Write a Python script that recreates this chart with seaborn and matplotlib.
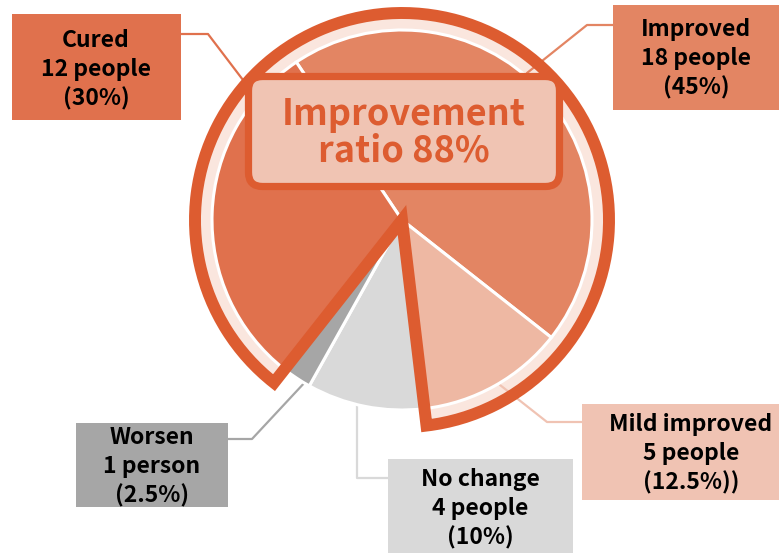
import numpy as np
import matplotlib
matplotlib.use("Agg")
import matplotlib.pyplot as plt
import seaborn as sns
from matplotlib.patches import Wedge, Rectangle, FancyBboxPatch

sns.set_theme(style="white")
plt.rcParams['font.family'] = ['Noto Sans CJK KR', 'DejaVu Sans']

# data
categories = ["Improved", "Mild improved", "No change", "Worsen", "Cured"]
counts = [18, 5, 4, 1, 12]
percents = [45, 12.5, 10, 2.5, 30]
units = ["people", "people", "people", "person", "people"]
extra = ["", ")", "", "", ""]
colors = ["#E38563", "#EEB8A3", "#D9D9D9", "#A6A6A6", "#E0714D"]
box_colors = ["#E38563", "#F0C3B3", "#D9D9D9", "#A6A6A6", "#E0714D"]
improvement_ratio = 88

W, H = 779, 553
def Y(y):
    return H - y

fig = plt.figure(figsize=(W / 100, H / 100), dpi=100)
ax = fig.add_axes([0, 0, 1, 1])

center = (402, Y(220))
radius = 190
start = 123.8

wedges, _ = ax.pie(counts, colors=colors, startangle=start, counterclock=False,
                   center=center, radius=radius,
                   wedgeprops=dict(edgecolor='white', linewidth=2.2))
for w in wedges:
    w.set_zorder(2)

ax.set_xlim(0, W)
ax.set_ylim(0, H)
ax.set_aspect('equal')
ax.axis('off')

# angles of the highlighted group
total = sum(counts)
cum = np.cumsum([0] + counts) / total * 360
theta1 = start - cum[2]          # end of "Mild improved"
theta2 = start - cum[4] + 360    # start of "Cured"

orange = "#DD5C30"
ax.add_patch(Wedge(center, 207, theta1, theta2, facecolor="#FAE6DE",
                   edgecolor='none', zorder=1))
ax.add_patch(Wedge(center, 207, theta1, theta2, facecolor='none',
                   edgecolor=orange, linewidth=8.6, joinstyle='miter', zorder=3))

# label boxes (image pixel coords: x0, x1, y0, y1)
boxes = {
    "Cured": (12, 181, 14, 120),
    "Improved": (613, 785, 5, 110),
    "Mild improved": (582, 785, 404, 500),
    "No change": (388, 573, 459, 560),
    "Worsen": (76, 228, 423, 507),
}
text_pos = {
    "Cured": (96, 70),
    "Improved": (696, 59),
    "Mild improved": (691, 454),
    "No change": (480, 509),
    "Worsen": (152, 467),
}
leaders = {
    "Cured": [(181, 34), (208, 34), (243, 80)],
    "Improved": [(613, 25), (587, 25), (527, 73)],
    "Mild improved": [(582, 422), (547, 422), (500, 385)],
    "No change": [(388, 478), (357, 478), (357, 405)],
    "Worsen": [(228, 439), (252, 439), (307, 380)],
}

for i, cat in enumerate(categories):
    x0, x1, y0, y1 = boxes[cat]
    ax.add_patch(Rectangle((x0, Y(y1)), x1 - x0, y1 - y0,
                           facecolor=box_colors[i], edgecolor='none', zorder=4))
    pts = leaders[cat]
    ax.plot([p[0] for p in pts], [Y(p[1]) for p in pts], color=box_colors[i],
            lw=1.6, zorder=1.5)
    txt = f"{cat}\n{counts[i]} {units[i]}\n({percents[i]:g}%){extra[i]}"
    tx, ty = text_pos[cat]
    ax.text(tx, Y(ty), txt, ha='center', va='center', fontsize=16.5,
            fontweight='bold', color='black', linespacing=1.32, zorder=5)

# center callout
ax.add_patch(FancyBboxPatch((248.5, Y(186.5)), 311, 110,
                            boxstyle="round,pad=0,rounding_size=14",
                            facecolor="#F0C4B3", edgecolor=orange,
                            linewidth=5.2, zorder=6))
ax.text(404, Y(133), f"Improvement\nratio {improvement_ratio}%", ha='center',
        va='center', fontsize=26, fontweight='bold', color=orange,
        linespacing=1.0, zorder=7)

fig.savefig("out.png", dpi=100)
